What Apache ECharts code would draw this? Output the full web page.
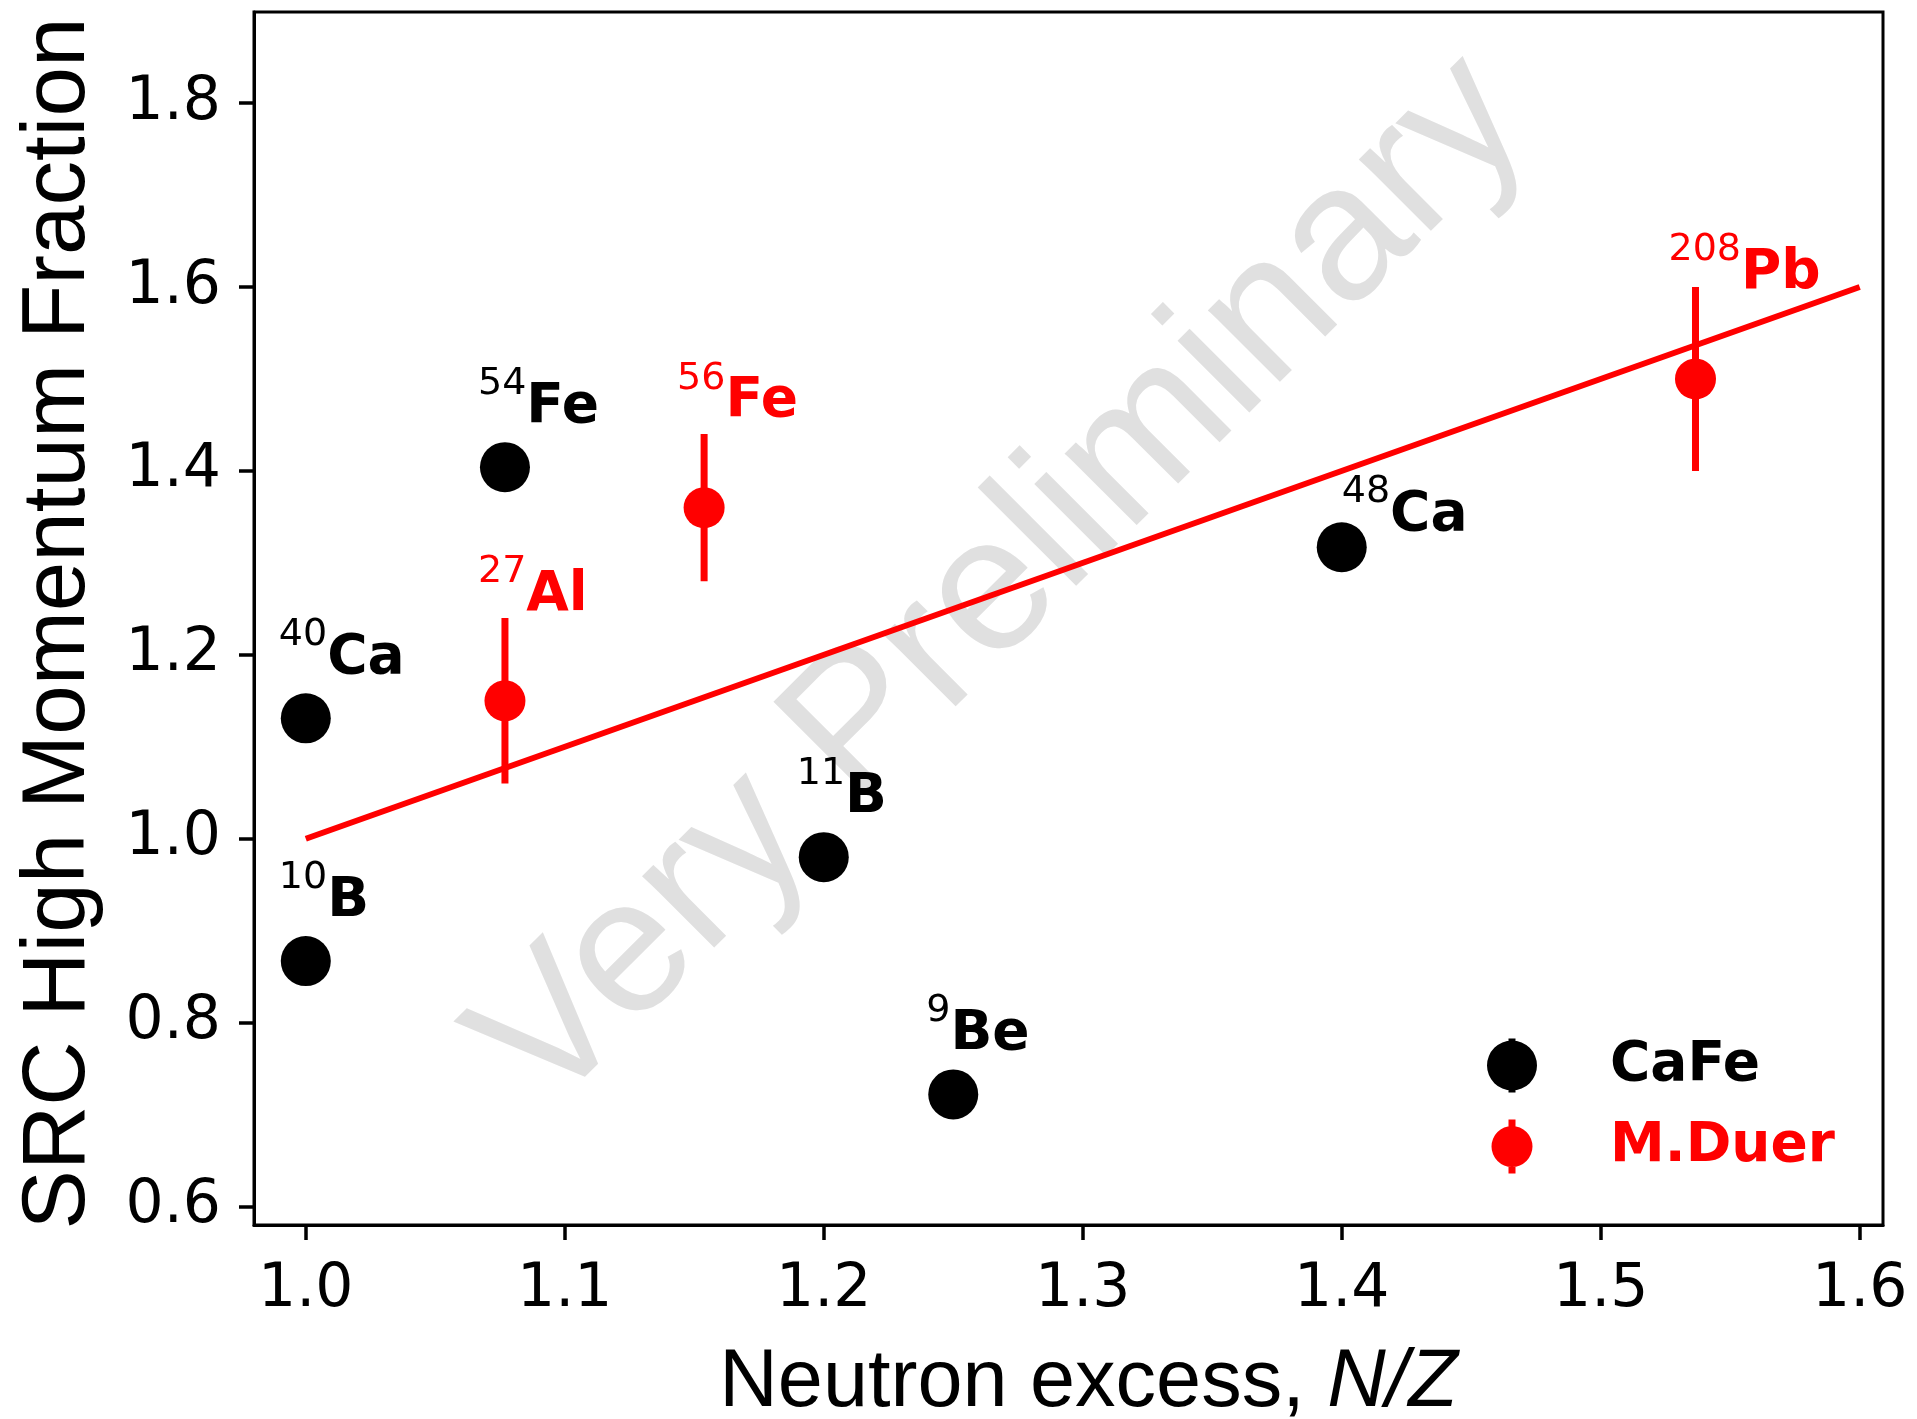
<!DOCTYPE html>
<html>
<head>
<meta charset="utf-8">
<script src="https://cdn.jsdelivr.net/npm/echarts@6/dist/echarts.min.js"></script>
<style>
  html, body { margin: 0; padding: 0; background: #ffffff; }
  #chart { width: 1917px; height: 1419px; }
</style>
</head>
<body>
<div id="chart"></div>
<script>
// Tick positions
const xTicks = [1.0, 1.1, 1.2, 1.3, 1.4, 1.5, 1.6];
const yTicks = [0.6, 0.8, 1.0, 1.2, 1.4, 1.6, 1.8];

// CaFe measurements: element symbol, mass number, N/Z, SRC fraction
const cafeElement = ['B', 'Ca', 'Fe', 'B', 'Be', 'Ca'];
const cafeMass = ['10', '40', '54', '11', '9', '48'];
const cafeNZ = [1.0, 1.0, 1.0769, 1.2, 1.25, 1.4];
const cafeSRC = [0.867, 1.131, 1.404, 0.980, 0.722, 1.317];

// M.Duer measurements with uncertainties
const duerElement = ['Al', 'Fe', 'Pb'];
const duerMass = ['27', '56', '208'];
const duerNZ = [1.0769, 1.1538, 1.5366];
const duerSRC = [1.150, 1.360, 1.500];
const duerErr = [0.09, 0.08, 0.10];

// Linear trend
const fitNZ = [1.0, 1.6];
const fitSRC = [1.0, 1.6];

const RED = '#ff0000';
const BLACK = '#000000';

function isoRich(color) {
  return {
    sup: { fontFamily: 'DejaVu Sans', fontSize: 38, lineHeight: 38, color: color, verticalAlign: 'top' },
    main: { fontFamily: 'DejaVu Sans', fontWeight: 'bold', fontSize: 55, lineHeight: 70, color: color, verticalAlign: 'bottom' }
  };
}
function isoFormatter(p) {
  return '{sup|' + p.data.mass + '}{main|' + p.data.element + '}';
}

const cafeData = cafeNZ.map((x, i) => {
  const item = { value: [x, cafeSRC[i]], element: cafeElement[i], mass: cafeMass[i] };
  if (cafeMass[i] === '48') item.label = { offset: [0, -4] };
  return item;
});
const duerData = duerNZ.map((x, i) => ({ value: [x, duerSRC[i]], element: duerElement[i], mass: duerMass[i] }));
const errData = duerNZ.map((x, i) => [x, duerSRC[i], duerErr[i]]);
const fitData = fitNZ.map((x, i) => [x, fitSRC[i]]);

// legend icons: marker with a short error bar
const iconBlack = 'path://M21.5,0 H28.5 V54 H21.5 Z M0,27 A25,25 0 1 1 50,27 A25,25 0 1 1 0,27 Z';
const iconRed = 'path://M17,0 H24 V54 H17 Z M0,27 A20.5,20.5 0 1 1 41,27 A20.5,20.5 0 1 1 0,27 Z';

const chart = echarts.init(document.getElementById('chart'), null, { renderer: 'canvas' });

chart.setOption({
  animation: false,
  backgroundColor: '#ffffff',
  grid: {
    left: 254, right: 34, top: 12, bottom: 194,
    outerBoundsMode: 'none',
    containLabel: false,
    show: true, borderColor: BLACK, borderWidth: 3, backgroundColor: 'transparent'
  },
  graphic: [{
    type: 'text',
    x: 1003, y: 584,
    rotation: Math.PI / 4,
    z: 0,
    silent: true,
    style: {
      text: 'Very Preliminary',
      fontFamily: 'Liberation Sans',
      fontSize: 192,
      fill: '#e0e0e0',
      align: 'center',
      verticalAlign: 'middle'
    }
  }],
  legend: {
    orient: 'vertical',
    left: 1487,
    top: 1038,
    padding: 0,
    itemWidth: 50,
    itemHeight: 54,
    itemGap: 26,
    symbolKeepAspect: true,
    selectedMode: false,
    textStyle: { fontFamily: 'DejaVu Sans', fontWeight: 'bold', fontSize: 55, padding: [14, 0, 0, 68] },
    data: [
      { name: 'CaFe', icon: iconBlack, textStyle: { color: BLACK } },
      { name: 'M.Duer', icon: iconRed, textStyle: { color: RED } }
    ]
  },
  xAxis: {
    type: 'value',
    min: 0.98, max: 1.609,
    name: '{t|Neutron excess, }{i|N/Z}',
    nameLocation: 'middle',
    nameGap: 118,
    nameTextStyle: {
      padding: [0, 0, 0, 40],
      rich: {
        t: { fontFamily: 'Liberation Sans', fontSize: 81, lineHeight: 81, color: BLACK },
        i: { fontFamily: 'Liberation Sans', fontStyle: 'italic', fontSize: 81, lineHeight: 81, color: BLACK }
      }
    },
    splitLine: { show: false },
    axisLine: { show: true, onZero: false, lineStyle: { color: BLACK, width: 3 } },
    axisTick: { show: true, inside: false, length: 15, customValues: xTicks, lineStyle: { color: BLACK, width: 3.5 } },
    axisLabel: {
      customValues: xTicks, margin: 35,
      fontFamily: 'DejaVu Sans', fontSize: 60, color: BLACK,
      formatter: v => v.toFixed(1)
    }
  },
  yAxis: {
    type: 'value',
    min: 0.58, max: 1.899,
    name: 'SRC High Momentum Fraction',
    nameLocation: 'middle',
    nameGap: 150,
    nameTextStyle: { fontFamily: 'Liberation Sans', fontSize: 89, color: BLACK, padding: [0, 10, 0, 0] },
    splitLine: { show: false },
    axisLine: { show: true, onZero: false, lineStyle: { color: BLACK, width: 3 } },
    axisTick: { show: true, inside: false, length: 15, customValues: yTicks, lineStyle: { color: BLACK, width: 3.5 } },
    axisLabel: {
      customValues: yTicks, margin: 33,
      padding: [8, 0, 0, 0],
      fontFamily: 'DejaVu Sans', fontSize: 60, color: BLACK,
      formatter: v => v.toFixed(1)
    }
  },
  series: [
    {
      name: 'fit',
      type: 'line',
      data: fitData,
      symbol: 'none',
      z: 2,
      silent: true,
      lineStyle: { color: RED, width: 6 }
    },
    {
      name: 'M.Duer errors',
      type: 'custom',
      z: 3,
      silent: true,
      data: errData,
      renderItem: function (params, api) {
        const x = api.value(0), y = api.value(1), e = api.value(2);
        const lo = api.coord([x, y - e]);
        const hi = api.coord([x, y + e]);
        return {
          type: 'line',
          shape: { x1: lo[0], y1: lo[1], x2: hi[0], y2: hi[1] },
          style: { stroke: RED, lineWidth: 7 }
        };
      }
    },
    {
      name: 'M.Duer',
      type: 'scatter',
      z: 4,
      symbol: 'circle',
      symbolSize: 41,
      itemStyle: { color: RED, opacity: 1 },
      data: duerData,
      label: {
        show: true, position: 'inside', align: 'left', verticalAlign: 'bottom',
        offset: [-27, -78],
        formatter: isoFormatter,
        rich: isoRich(RED)
      }
    },
    {
      name: 'CaFe',
      type: 'scatter',
      z: 4,
      symbol: 'circle',
      symbolSize: 50,
      itemStyle: { color: BLACK, opacity: 1 },
      data: cafeData,
      label: {
        show: true, position: 'inside', align: 'left', verticalAlign: 'bottom',
        offset: [-27, -32],
        formatter: isoFormatter,
        rich: isoRich(BLACK)
      }
    }
  ]
});
</script>
</body>
</html>
